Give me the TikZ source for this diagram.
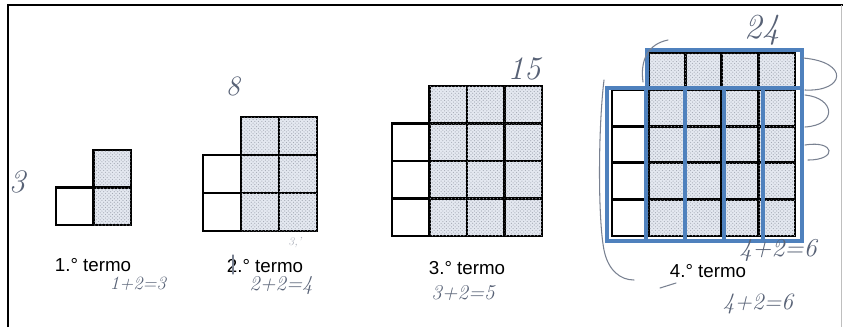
\documentclass[tikz,border=0pt]{standalone}
\usepackage{fontspec}
\newfontfamily\impresso{Liberation Sans}
\usepackage{tikz}
\usetikzlibrary{calc,patterns}

\definecolor{lapis}{RGB}{88,98,118}
\definecolor{azulmarca}{RGB}{79,129,189}
\definecolor{pontilhado}{RGB}{228,232,240}

\tikzset{
  celula/.style={draw=black, line width=2.4pt},
  sombreada/.style={celula, fill=pontilhado,
    postaction={pattern=crosshatch dots, pattern color=lapis!55}},
  marca/.style={draw=azulmarca, line width=3.8pt},
  manuscrito/.style={text=lapis, font=\itshape\fontsize{18}{18}\selectfont},
  rotulo/.style={font=\impresso\fontsize{16}{18}\selectfont},
  risco/.style={draw=lapis!80, line width=0.9pt, line cap=round},
}

\begin{document}
\begin{tikzpicture}[x=0.03cm, y=-0.03cm]
  \useasboundingbox (0,0) rectangle (843,327);

  % moldura
  \draw[line width=1.6pt] (8,327) -- (8,5) -- (843,5);
  \draw[gray!50, line width=0.8pt] (841,5) -- (841,327);

  % termos: n / x0 / y0 / lado
  \foreach \n/\xo/\yo/\s in {1/56/150/37.5, 2/203/117/38, 3/392/86/37.5, 4/612/53/36.6}{
    % coluna branca
    \foreach \i in {1,...,\n}
      \draw[celula] (\xo,\yo+\i*\s) rectangle ++(\s,\s);
    % quadrados sombreados
    \foreach \i in {0,...,\n}
      \foreach \j in {1,...,\n}
        \draw[sombreada] (\xo+\j*\s,\yo+\i*\s) rectangle ++(\s,\s);
  }

  % marcas azuis no 4.o termo
  \draw[marca] (647,50) rectangle (802,88);
  \foreach \a/\b in {607/646, 646/685, 685/724, 724/763, 763/802}
    \draw[marca] (\a,88) rectangle (\b,241);

  % rotulos impressos
  \node[rotulo] (t1) at (93,265) {1.° termo};
  \node[rotulo] (t2) at (265,266) {2.° termo};
  \node[rotulo] (t3) at (467,268) {3.° termo};
  \node[rotulo] (t4) at (708,271) {4.° termo};

  % totais escritos a lapis
  \node[manuscrito, font=\itshape\fontsize{28}{28}\selectfont] (n1) at (17,182) {3};
  \node[manuscrito, font=\itshape\fontsize{24}{24}\selectfont] (n2) at (233,86) {8};
  \node[manuscrito, font=\itshape\fontsize{28}{28}\selectfont] (n3) at (524,69) {15};
  \node[manuscrito, font=\itshape\fontsize{30}{30}\selectfont] (n4) at (762,30) {24};

  % contas
  \node[manuscrito, font=\itshape\fontsize{16}{16}\selectfont] (s1) at (138,284) {1+2=3};
  \node[manuscrito] (s2) at (281,286) {2+2=4};
  \node[manuscrito] (s3) at (463,293) {3+2=5};
  \node[manuscrito, font=\itshape\fontsize{22}{22}\selectfont] (s4) at (778,250) {4+2=6};
  \node[manuscrito, font=\itshape\fontsize{20}{20}\selectfont] (s5) at (758,304) {4+2=6};
  \node[text=lapis!50, font=\itshape\fontsize{10}{10}\selectfont] (s6) at (295,243) {3,'};

  % riscos a lapis
  \draw[risco] (233,255) -- (233,274);
  \draw[risco] (660,288) -- (676,283);
  \draw[risco] (668,40) .. controls (648,44) and (640,60) .. (643,82);
  \draw[risco] (604,80) .. controls (598,130) and (598,220) .. (604,250) .. controls (608,270) and (620,280) .. (634,280);
  \draw[risco] (803,58) .. controls (850,62) and (845,92) .. (805,90);
  \draw[risco] (805,95) .. controls (835,98) and (838,125) .. (805,127);
  \draw[risco] (805,145) .. controls (835,140) and (838,160) .. (808,160);
\end{tikzpicture}
\end{document}
